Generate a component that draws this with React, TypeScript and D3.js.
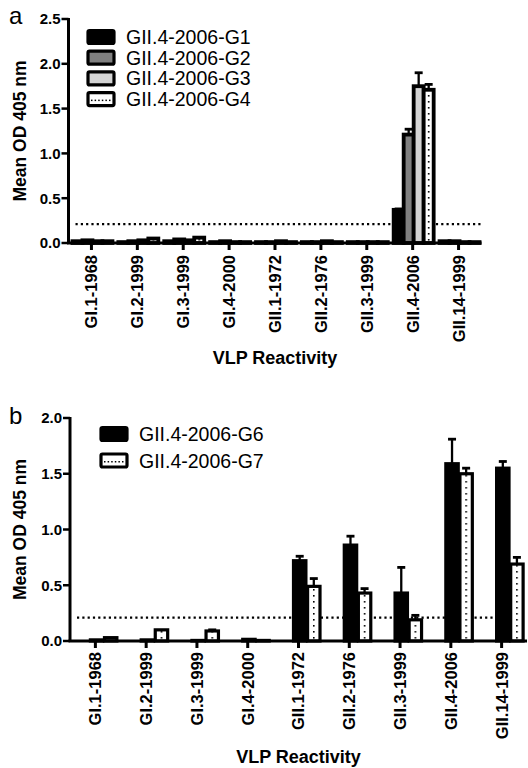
import React from "react";
import * as d3 from "d3";

const FONT = '"Liberation Sans", Arial, Helvetica, sans-serif';

// ---------- Data ----------
const categories = [
  "GI.1-1968",
  "GI.2-1999",
  "GI.3-1999",
  "GI.4-2000",
  "GII.1-1972",
  "GII.2-1976",
  "GII.3-1999",
  "GII.4-2006",
  "GII.14-1999",
];

const seriesA = ["GII.4-2006-G1", "GII.4-2006-G2", "GII.4-2006-G3", "GII.4-2006-G4"];
const aG1 = [0.02, 0.01, 0.02, 0.01, 0.01, 0.01, 0.01, 0.37, 0.02];
const aG2 = [0.03, 0.02, 0.04, 0.02, 0.01, 0.01, 0.01, 1.21, 0.02];
const aG3 = [0.02, 0.03, 0.03, 0.01, 0.02, 0.02, 0.01, 1.75, 0.01];
const aG4 = [0.02, 0.05, 0.06, 0.01, 0.01, 0.01, 0.01, 1.71, 0.01];
const aG1err = [0, 0, 0, 0, 0, 0, 0, 0.01, 0];
const aG2err = [0, 0, 0, 0, 0, 0, 0, 0.06, 0];
const aG3err = [0, 0, 0, 0, 0, 0, 0, 0.15, 0];
const aG4err = [0, 0, 0, 0, 0, 0, 0, 0.06, 0];
const ticksA = [0, 0.5, 1.0, 1.5, 2.0, 2.5];

const seriesB = ["GII.4-2006-G6", "GII.4-2006-G7"];
const bG6 = [0.01, 0.01, 0.005, 0.015, 0.72, 0.86, 0.43, 1.59, 1.55];
const bG7 = [0.03, 0.1, 0.09, 0.005, 0.49, 0.43, 0.19, 1.5, 0.69];
const bG6err = [0, 0, 0, 0, 0.04, 0.08, 0.23, 0.22, 0.06];
const bG7err = [0, 0, 0.01, 0, 0.07, 0.04, 0.04, 0.05, 0.06];
const ticksB = [0, 0.5, 1.0, 1.5, 2.0];

const threshold = 0.21;

type Style = { fill: string; dotted?: boolean };

function Panel(props: {
  id: string;
  letter: string;
  letterY: number;
  x0: number;
  x1: number;
  yTop: number;
  yZero: number;
  yMax: number;
  ticks: number[];
  series: string[];
  values: number[][];
  errors: number[][];
  styles: Style[];
  groupRange: [number, number];
  groupPad: number;
  barStroke: number;
  legendX: number;
  legendY: number;
  legendStep: number;
  labelTop: number;
  titleY: number;
  dashEnd: number;
}) {
  const p = props;
  const x = d3.scaleBand<string>().domain(categories).range([p.x0, p.x1]).padding(0);
  const y = d3.scaleLinear().domain([0, p.yMax]).range([p.yZero, p.yTop]);
  const xi = d3
    .scaleBand<string>()
    .domain(p.series)
    .range(p.groupRange)
    .paddingInner(p.groupPad);
  const bw = xi.bandwidth();
  const center = (c: string) => (x(c) as number) + x.bandwidth() / 2;
  const yMid = (p.yTop + p.yZero) / 2;
  const dotSeries = p.styles.findIndex((s) => s.dotted);
  const dotName = p.series[dotSeries];
  const dotX = center(categories[0]) + (xi(dotName) as number) + bw / 2;
  const step = x.step();
  const patId = `dots-${p.id}`;

  return (
    <g>
      <defs>
        <pattern
          id={patId}
          patternUnits="userSpaceOnUse"
          x={dotX - 0.8}
          y={p.yZero}
          width={step}
          height={6}
        >
          <rect x={0} y={0} width={step} height={6} fill="#fff" />
          <rect x={0} y={2} width={1.6} height={1.6} fill="#000" />
        </pattern>
      </defs>

      {/* panel letter */}
      <text x={9} y={p.letterY} fontFamily={FONT} fontSize={24} fill="#000">
        {p.letter}
      </text>

      {/* threshold */}
      <line
        x1={p.x0 + 7}
        x2={p.dashEnd}
        y1={y(threshold)}
        y2={y(threshold)}
        stroke="#000"
        strokeWidth={2.2}
        strokeDasharray="2.2,3.1"
      />

      {/* bars */}
      {p.series.map((s, si) =>
        categories.map((c, ci) => {
          const v = p.values[si][ci];
          const bx = center(c) + (xi(s) as number);
          const st = p.styles[si];
          return (
            <rect
              key={`${s}-${c}`}
              x={bx}
              y={y(v)}
              width={bw}
              height={y(0) - y(v)}
              fill={st.dotted ? `url(#${patId})` : st.fill}
              stroke="#000"
              strokeWidth={p.barStroke}
            />
          );
        })
      )}

      {/* error bars */}
      {p.series.map((s, si) =>
        categories.map((c, ci) => {
          const v = p.values[si][ci];
          const e = p.errors[si][ci];
          if (!e) return null;
          const cx = center(c) + (xi(s) as number) + bw / 2;
          return (
            <g key={`e-${s}-${c}`} stroke="#000" strokeWidth={2.3}>
              <line x1={cx} x2={cx} y1={y(v)} y2={y(v + e)} />
              <line x1={cx - 4} x2={cx + 4} y1={y(v + e)} y2={y(v + e)} strokeWidth={2.8} />
            </g>
          );
        })
      )}

      {/* y axis */}
      <line x1={p.x0} x2={p.x0} y1={p.yTop - 1} y2={p.yZero} stroke="#000" strokeWidth={3} />
      {p.ticks.map((t) => (
        <g key={`yt-${t}`}>
          <line x1={p.x0 - 7} x2={p.x0} y1={y(t)} y2={y(t)} stroke="#000" strokeWidth={2.5} />
          <text
            x={p.x0 - 8}
            y={y(t)}
            dy="0.36em"
            textAnchor="end"
            fontFamily={FONT}
            fontWeight="bold"
            fontSize={15}
            fill="#000"
          >
            {d3.format(".1f")(t)}
          </text>
        </g>
      ))}

      {/* x axis */}
      <line x1={p.x0 - 1.5} x2={p.x1} y1={p.yZero} y2={p.yZero} stroke="#000" strokeWidth={3.2} />
      {categories.map((c) => (
        <g key={`xt-${c}`}>
          <line
            x1={center(c)}
            x2={center(c)}
            y1={p.yZero}
            y2={p.yZero + 7}
            stroke="#000"
            strokeWidth={3}
          />
          <text
            transform={`translate(${center(c)},${p.labelTop}) rotate(-90)`}
            dy="0.36em"
            textAnchor="end"
            fontFamily={FONT}
            fontWeight="bold"
            fontSize={16.5}
            fill="#000"
          >
            {c}
          </text>
        </g>
      ))}

      {/* axis titles */}
      <text
        transform={`translate(26,${yMid}) rotate(-90)`}
        textAnchor="middle"
        fontFamily={FONT}
        fontWeight="bold"
        fontSize={17.5}
        fill="#000"
      >
        Mean OD 405 nm
      </text>
      <text
        x={(p.x0 + p.x1) / 2}
        y={p.titleY}
        textAnchor="middle"
        fontFamily={FONT}
        fontWeight="bold"
        fontSize={18}
        fill="#000"
      >
        VLP Reactivity
      </text>

      {/* legend */}
      {p.series.map((s, si) => {
        const cy = p.legendY + si * p.legendStep;
        const st = p.styles[si];
        return (
          <g key={`lg-${s}`}>
            <rect
              x={p.legendX}
              y={cy - 6.5}
              width={26}
              height={13}
              rx={1.5}
              fill={st.dotted ? "#fff" : st.fill}
              stroke="#000"
              strokeWidth={3.2}
            />
            {st.dotted &&
              d3.range(6).map((k) => (
                <rect
                  key={k}
                  x={p.legendX + 3 + k * 3.6}
                  y={cy + 0.5}
                  width={1.5}
                  height={1.5}
                  fill="#000"
                />
              ))}
            <text
              x={p.legendX + 38}
              y={cy}
              dy="0.36em"
              fontFamily={FONT}
              fontSize={19.5}
              fill="#000"
            >
              {s}
            </text>
          </g>
        );
      })}
    </g>
  );
}

export default function App() {
  return (
    <svg
      width={528}
      height={768}
      style={{ position: "absolute", left: 0, top: 0, background: "#fff" }}
    >
      <rect width={528} height={768} fill="#fff" />
      <Panel
        id="a"
        letter="a"
        letterY={24}
        x0={68.5}
        x1={481.5}
        yTop={19}
        yZero={243}
        yMax={2.5}
        ticks={ticksA}
        series={seriesA}
        values={[aG1, aG2, aG3, aG4]}
        errors={[aG1err, aG2err, aG3err, aG4err]}
        styles={[{ fill: "#000" }, { fill: "#808080" }, { fill: "#d4d4d4" }, { fill: "#fff", dotted: true }]}
        groupRange={[-19, 21]}
        groupPad={0}
        barStroke={3.8}
        legendX={88}
        legendY={37}
        legendStep={20.7}
        labelTop={255}
        titleY={364}
        dashEnd={481}
      />
      <Panel
        id="b"
        letter="b"
        letterY={424}
        x0={70}
        x1={527}
        yTop={418}
        yZero={641}
        yMax={2.0}
        ticks={ticksB}
        series={seriesB}
        values={[bG6, bG7]}
        errors={[bG6err, bG7err]}
        styles={[{ fill: "#000" }, { fill: "#fff", dotted: true }]}
        groupRange={[-5, 21.5]}
        groupPad={0.12}
        barStroke={3.2}
        legendX={101}
        legendY={434}
        legendStep={26.5}
        labelTop={652}
        titleY={763}
        dashEnd={520}
      />
    </svg>
  );
}
